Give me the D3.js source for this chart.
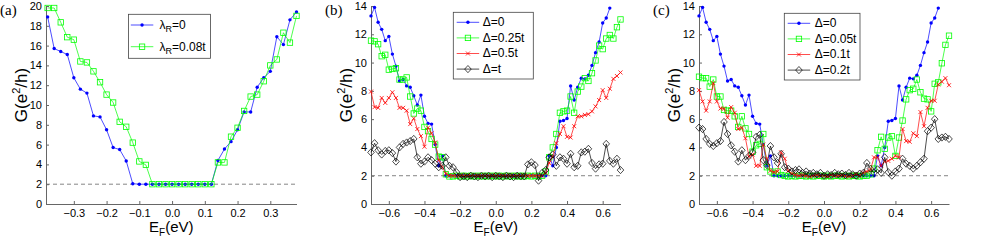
<!DOCTYPE html>
<html>
<head>
<meta charset="utf-8">
<script src="https://d3js.org/d3.v7.min.js"></script>
<style>
  body { margin: 0; background: #fff; }
  svg { display: block; font-family: "Liberation Sans", Arial, Helvetica, sans-serif; }
  .tick text { font-size: 11px; fill: #000; }
</style>
</head>
<body>
<div id="chart"></div>
<script>
// ---- data ----
const energyA = [-0.38, -0.36, -0.34, -0.32, -0.30, -0.28, -0.26, -0.24, -0.22, -0.20, -0.18, -0.16, -0.14, -0.12,
  -0.10, -0.08, -0.06, -0.04, -0.02, 0, 0.02, 0.04, 0.06, 0.08, 0.10, 0.12,
  0.14, 0.16, 0.18, 0.20, 0.22, 0.24, 0.26, 0.28, 0.30, 0.32, 0.34, 0.36, 0.38];

const energyBC = [-0.70, -0.68, -0.66, -0.64, -0.62, -0.60, -0.58, -0.56, -0.54, -0.52, -0.50, -0.48, -0.46, -0.44,
  -0.42, -0.40, -0.38, -0.36, -0.34, -0.32, -0.30, -0.28, -0.26, -0.24, -0.22, -0.20, -0.18, -0.16, -0.14, -0.12,
  -0.10, -0.08, -0.06, -0.04, -0.02, 0, 0.02, 0.04, 0.06, 0.08, 0.10, 0.12, 0.14, 0.16, 0.18, 0.20, 0.22, 0.24,
  0.26, 0.28, 0.30, 0.32, 0.34, 0.36, 0.38, 0.40, 0.42, 0.44, 0.46, 0.48, 0.50, 0.52, 0.54, 0.56, 0.58, 0.60,
  0.62, 0.64, 0.66, 0.68, 0.70];

// panel (a)
const lambda0 = [18.9, 15.7, 15.4, 15.1, 12.75, 11.6, 11.2, 8.9, 8.8, 7.5, 5.7, 5.5, 4.35, 2.05,
  2.0, 2.0, 2.0, 2.0, 2.0, 2.0, 2.0, 2.0, 2.0, 2.0, 2.0, 2.0,
  4.4, 5.55, 6.3, 7.5, 9.3, 9.3, 11.8, 12.75, 13.4, 16.9, 16.1, 18.6, 19.4];
const lambda008 = [19.8, 19.8, 18.35, 16.85, 16.6, 14.4, 14.3, 13.4, 12.3, 11.05, 10.25, 8.3, 7.8, 6.2, 4.3, 3.95,
  2.0, 2.0, 2.0, 2.0, 2.0, 2.0, 2.0, 2.0, 2.0, 2.0,
  4.2, 4.2, 6.8, 7.7, 9.4, 10.85, 11.05, 12.4, 14.0, 14.6, 17.3, 16.3, 19.0];

// panels (b) and (c): clean case (ends at 0.64)
const delta0 = [13.3, 13.9, 12.85, 12.35, 11.55, 11.85, 10.6, 9.75, 8.7, 8.8, 8.35, 8.25, 7.65, 7.0, 7.7, 6.2,
  5.7, 5.65, 4.2, 2.7, 3.4, 2.0,
  2.0, 2.0, 2.0, 2.0, 2.0, 2.0, 2.0, 2.0, 2.0, 2.0, 2.0, 2.0, 2.0, 2.0, 2.0, 2.0, 2.0, 2.0, 2.0, 2.0, 2.0, 2.0,
  2.0, 2.0, 2.0, 2.0, 2.0,
  2.0, 3.4, 2.7, 4.0, 5.85, 5.9, 6.05, 8.35, 7.35, 8.25, 8.9, 8.85, 9.1, 9.8, 10.7, 11.45, 12.8, 13.15, 13.85];

// panel (b)
const delta025 = [11.55, 11.5, 11.3, 10.45, 10.55, 9.5, 9.55, 9.6, 8.8, 8.8, 8.95, 7.6, 6.4, 6.75, 6.6, 5.45,
  5.15, 4.6, 4.2, 3.35, 3.3, 2.1, 1.95,
  1.95, 2.0, 1.95, 2.0, 1.95, 2.0, 1.95, 2.0, 1.95, 2.0, 1.95, 2.0, 1.95, 2.0, 1.95, 2.0, 1.95, 2.0, 1.95, 2.0,
  1.95, 2.0, 1.95, 2.0, 1.95, 2.0,
  2.3, 3.3, 4.0, 4.95, 6.45, 6.55, 6.6, 7.6, 6.45, 7.95, 8.3, 8.9, 8.7, 9.25, 10.15, 11.2, 10.95, 11.7, 11.95,
  11.7, 12.5, 13.05];
const delta05 = [7.95, 6.85, 6.8, 7.5, 7.15, 7.5, 7.9, 7.5, 6.8, 6.8, 6.6, 5.65, 6.05, 5.3, 4.8, 4.05, 5.4, 5.0,
  4.35, 3.1, 2.6, 2.15, 2.0,
  2.0, 2.0, 2.0, 2.0, 2.0, 2.0, 2.0, 2.0, 2.0, 2.0, 2.0, 2.0, 2.0, 2.0, 2.0, 2.0, 2.0, 2.0, 2.0, 2.0, 2.0, 2.0,
  2.0, 2.0, 2.0, 2.0,
  2.2, 2.9, 3.35, 4.3, 4.95, 5.5, 4.75, 4.7, 5.5, 6.2, 6.2, 6.3, 6.35, 6.55, 6.9, 7.35, 8.05, 7.5, 8.15, 8.85,
  9.05, 9.3];
const deltaT = [3.65, 4.3, 3.8, 3.5, 3.75, 3.8, 3.6, 3.0, 4.0, 4.25, 4.35, 4.45, 4.6, 3.3, 2.85, 3.0, 3.3, 3.1,
  2.85, 2.6, 2.7, 3.3, 2.7, 2.6, 2.25, 1.9,
  1.95, 1.9, 2.0, 1.95, 1.9, 2.0, 1.95, 2.0, 1.9, 2.0, 1.95, 1.9, 2.0, 1.95, 1.9, 2.0, 1.95,
  1.95, 2.8, 2.95, 2.75, 1.65, 2.2, 2.4, 3.3, 3.5, 2.7, 3.3, 3.2, 2.85, 3.55, 2.6, 2.7, 3.65, 3.7, 3.9, 2.9,
  2.5, 2.8, 2.85, 4.25, 3.05, 2.85, 3.2, 2.4];

// panel (c)
const delta005 = [9.0, 8.9, 8.9, 8.3, 8.8, 7.6, 7.6, 6.65, 6.6, 6.6, 6.2, 5.45, 6.2, 5.35, 4.95, 3.7, 4.15, 4.25,
  4.95, 2.6, 2.3, 2.15, 2.3,
  2.05, 2.0, 1.95, 2.0, 1.95, 2.0, 2.0, 1.95, 2.0, 1.95, 2.0, 2.0, 1.95, 2.0, 1.95, 2.0, 2.0, 1.95, 2.0, 1.95,
  2.0, 2.0, 1.95, 2.0, 2.0, 2.1,
  2.5, 3.8, 4.75, 3.9, 4.7, 4.8, 3.4, 4.7, 5.9, 7.4, 8.05, 8.15, 8.8, 7.9, 7.45, 7.4, 6.55, 8.5, 8.6, 9.95,
  11.25, 11.9];
const delta01 = [8.05, 7.25, 6.6, 7.25, 8.55, 7.25, 6.75, 6.75, 6.1, 6.85, 6.45, 5.3, 5.4, 4.65, 3.35, 3.5, 2.7,
  2.7, 4.2, 3.2, 2.35, 2.25, 2.3, 3.65, 3.2, 2.35, 2.15,
  2.05, 2.0, 2.05, 2.0, 1.95, 2.0, 2.05, 2.0, 2.0, 1.95, 2.05, 2.0, 2.0, 2.05, 2.0, 1.95, 2.0, 2.1, 2.0, 2.2, 2.3,
  2.4, 3.3, 3.3, 2.7, 3.0, 3.05, 3.2, 3.4, 3.3, 5.3, 4.45, 4.4, 5.0, 4.8, 6.5, 5.5, 6.8, 7.3, 7.3, 8.45, 8.65,
  8.9, 8.4];
const delta02 = [5.4, 5.3, 4.6, 4.25, 4.1, 4.3, 4.45, 5.8, 4.95, 4.15, 3.7, 3.0, 3.8, 3.1, 3.4, 3.65, 4.75, 4.9,
  3.1, 2.75, 4.1, 3.3, 2.9, 3.55, 2.6, 2.5, 2.3, 2.4, 2.45, 2.2, 2.3, 2.15, 2.2, 2.1, 2.2,
  2.0, 2.1, 2.05, 2.2, 2.1, 2.15, 2.05, 2.2, 2.1, 2.0, 2.15, 2.2,
  2.9, 2.5, 2.2, 2.45, 2.2, 3.3, 2.25, 2.0, 2.3, 2.5, 3.2, 2.85, 2.7, 2.5, 2.7, 2.95, 3.2, 5.15, 5.4, 6.0, 4.6,
  4.7, 4.75, 4.6];

// ticks and labels
const xTicksA = [-0.3, -0.2, -0.1, 0, 0.1, 0.2, 0.3];
const xTicksBC = [-0.6, -0.4, -0.2, 0, 0.2, 0.4, 0.6];
const yTicksA = [0, 2, 4, 6, 8, 10, 12, 14, 16, 18, 20];
const yTicksBC = [0, 2, 4, 6, 8, 10, 12, 14];
const panelTags = ["(a)", "(b)", "(c)"];
const legendA = ["=0", "=0.08t"];          // prefixed with λ_R
const legendB = ["Δ=0", "Δ=0.25t", "Δ=0.5t", "Δ=t"];
const legendC = ["Δ=0", "Δ=0.05t", "Δ=0.1t", "Δ=0.2t"];

// ---- styles ----
const styles = {
  blue:  {color: "#0000ff", marker: "dot"},
  green: {color: "#00ff00", marker: "square"},
  red:   {color: "#ff0000", marker: "cross"},
  black: {color: "#000000", marker: "diamond"}
};

const width = 981, height = 245;
const yTop = 6, yBottom = 204;

const svg = d3.select("#chart").append("svg")
  .attr("width", width)
  .attr("height", height);

function drawMarker(sel, type, color) {
  if (type === "dot") {
    sel.append("circle").attr("r", 1.7).attr("fill", color);
  } else if (type === "square") {
    sel.append("rect").attr("x", -2.7).attr("y", -2.7).attr("width", 5.4).attr("height", 5.4)
      .attr("fill", "none").attr("stroke", color).attr("stroke-width", 0.8);
  } else if (type === "cross") {
    sel.append("path").attr("d", "M-2,-2L2,2M-2,2L2,-2")
      .attr("fill", "none").attr("stroke", color).attr("stroke-width", 0.8);
  } else if (type === "diamond") {
    sel.append("path").attr("d", "M0,-3.6L3.3,0L0,3.6L-3.3,0Z")
      .attr("fill", "none").attr("stroke", color).attr("stroke-width", 0.7);
  }
}

function drawPanel(p) {
  const x = d3.scaleLinear().domain(p.xDomain).range([p.left, p.right]);
  const y = d3.scaleLinear().domain([0, p.yMax]).range([yBottom, yTop]);
  const g = svg.append("g");

  // reference level at 2 e^2/h
  g.append("line")
    .attr("x1", p.left).attr("x2", p.right)
    .attr("y1", y(2)).attr("y2", y(2))
    .attr("stroke", "#666").attr("stroke-width", 0.8)
    .attr("stroke-dasharray", "4,3");

  // axes
  const xAxis = d3.axisBottom(x).tickValues(p.xTicks).tickFormat(d3.format(".1f"))
    .tickSizeInner(-3).tickSizeOuter(0).tickPadding(5);
  const yAxis = d3.axisLeft(y).tickValues(p.yTicks).tickFormat(d3.format("d"))
    .tickSizeInner(-3).tickSizeOuter(0).tickPadding(4);

  const gx = g.append("g").attr("transform", `translate(0,${yBottom})`).call(xAxis);
  const gy = g.append("g").attr("transform", `translate(${p.left},0)`).call(yAxis);
  [gx, gy].forEach(a => {
    a.select(".domain").attr("stroke", "#666").attr("stroke-width", 1);
    a.selectAll(".tick line").attr("stroke", "#666");
    a.selectAll("text").attr("font-size", 11);
  });

  // series
  const line = d3.line().x(d => x(d[0])).y(d => y(d[1]));
  p.series.forEach(s => {
    const pts = s.values.map((v, i) => [p.energy[i], v]);
    g.append("path").datum(pts)
      .attr("fill", "none").attr("stroke", s.style.color)
      .attr("stroke-width", 0.7).attr("d", line);
    g.selectAll(null).data(pts).enter().append("g")
      .attr("transform", d => `translate(${x(d[0])},${y(d[1])})`)
      .each(function() { drawMarker(d3.select(this), s.style.marker, s.style.color); });
  });

  // axis titles
  const yl = g.append("text")
    .attr("transform", `translate(${p.left - 19},${(yTop + yBottom) / 2 - 10}) rotate(-90)`)
    .attr("text-anchor", "middle").attr("font-size", 17);
  yl.append("tspan").text("G(e");
  yl.append("tspan").attr("dy", -7).attr("font-size", 11).text("2");
  yl.append("tspan").attr("dy", 7).text("/h)");

  const xl = g.append("text")
    .attr("x", (p.left + p.right) / 2).attr("y", 232)
    .attr("text-anchor", "middle").attr("font-size", 15);
  xl.append("tspan").text("E");
  xl.append("tspan").attr("dy", 4).attr("font-size", 10).text("F");
  xl.append("tspan").attr("dy", -4).text("(eV)");

  // panel tag
  g.append("text").attr("x", p.left - 46).attr("y", 15)
    .attr("font-family", "'Liberation Serif', 'Times New Roman', serif")
    .attr("font-size", 15).text(p.tag);

  // legend
  const L = p.legend;
  const lg = g.append("g").attr("transform", `translate(${L.x},${L.y})`);
  lg.append("rect").attr("width", L.w).attr("height", L.h)
    .attr("fill", "#fff").attr("stroke", "#444").attr("stroke-width", 0.8);
  p.series.forEach((s, i) => {
    const ry = L.first + i * L.step;
    lg.append("line").attr("x1", L.lineX).attr("x2", L.lineX + 22.5)
      .attr("y1", ry).attr("y2", ry)
      .attr("stroke", s.style.color).attr("stroke-width", 0.7);
    drawMarker(lg.append("g").attr("transform", `translate(${L.lineX + 11.25},${ry})`),
      s.style.marker, s.style.color);
    const t = lg.append("text").attr("x", L.textX).attr("y", ry + 4).attr("font-size", 12);
    if (p.lambdaLegend) {
      t.append("tspan").text("λ");
      t.append("tspan").attr("dy", 3).attr("font-size", 9).text("R");
      t.append("tspan").attr("dy", -3).text(s.label);
    } else {
      t.text(s.label);
    }
  });
}

const panels = [
  {
    tag: panelTags[0], left: 46, right: 296.5, xDomain: [-0.385, 0.38], yMax: 20,
    xTicks: xTicksA, yTicks: yTicksA, energy: energyA, lambdaLegend: true,
    series: [
      {label: legendA[0], values: lambda0, style: styles.blue},
      {label: legendA[1], values: lambda008, style: styles.green}
    ],
    legend: {x: 128.5, y: 14.3, w: 82, h: 44, first: 10.7, step: 21.7, lineX: 2.3, textX: 31}
  },
  {
    tag: panelTags[1], left: 371, right: 620.5, xDomain: [-0.7, 0.7], yMax: 14,
    xTicks: xTicksBC, yTicks: yTicksBC, energy: energyBC,
    series: [
      {label: legendB[0], values: delta0, style: styles.blue},
      {label: legendB[1], values: delta025, style: styles.green},
      {label: legendB[2], values: delta05, style: styles.red},
      {label: legendB[3], values: deltaT, style: styles.black}
    ],
    legend: {x: 453.3, y: 12.3, w: 80, h: 66.7, first: 10, step: 15.6, lineX: 3.4, textX: 29.4}
  },
  {
    tag: panelTags[2], left: 699, right: 949, xDomain: [-0.7, 0.7], yMax: 14,
    xTicks: xTicksBC, yTicks: yTicksBC, energy: energyBC,
    series: [
      {label: legendC[0], values: delta0, style: styles.blue},
      {label: legendC[1], values: delta005, style: styles.green},
      {label: legendC[2], values: delta01, style: styles.red},
      {label: legendC[3], values: delta02, style: styles.black}
    ],
    legend: {x: 784.3, y: 13.3, w: 75.7, h: 66.7, first: 10, step: 15.6, lineX: 3.4, textX: 30.4}
  }
];

panels.forEach(drawPanel);
</script>
</body>
</html>
